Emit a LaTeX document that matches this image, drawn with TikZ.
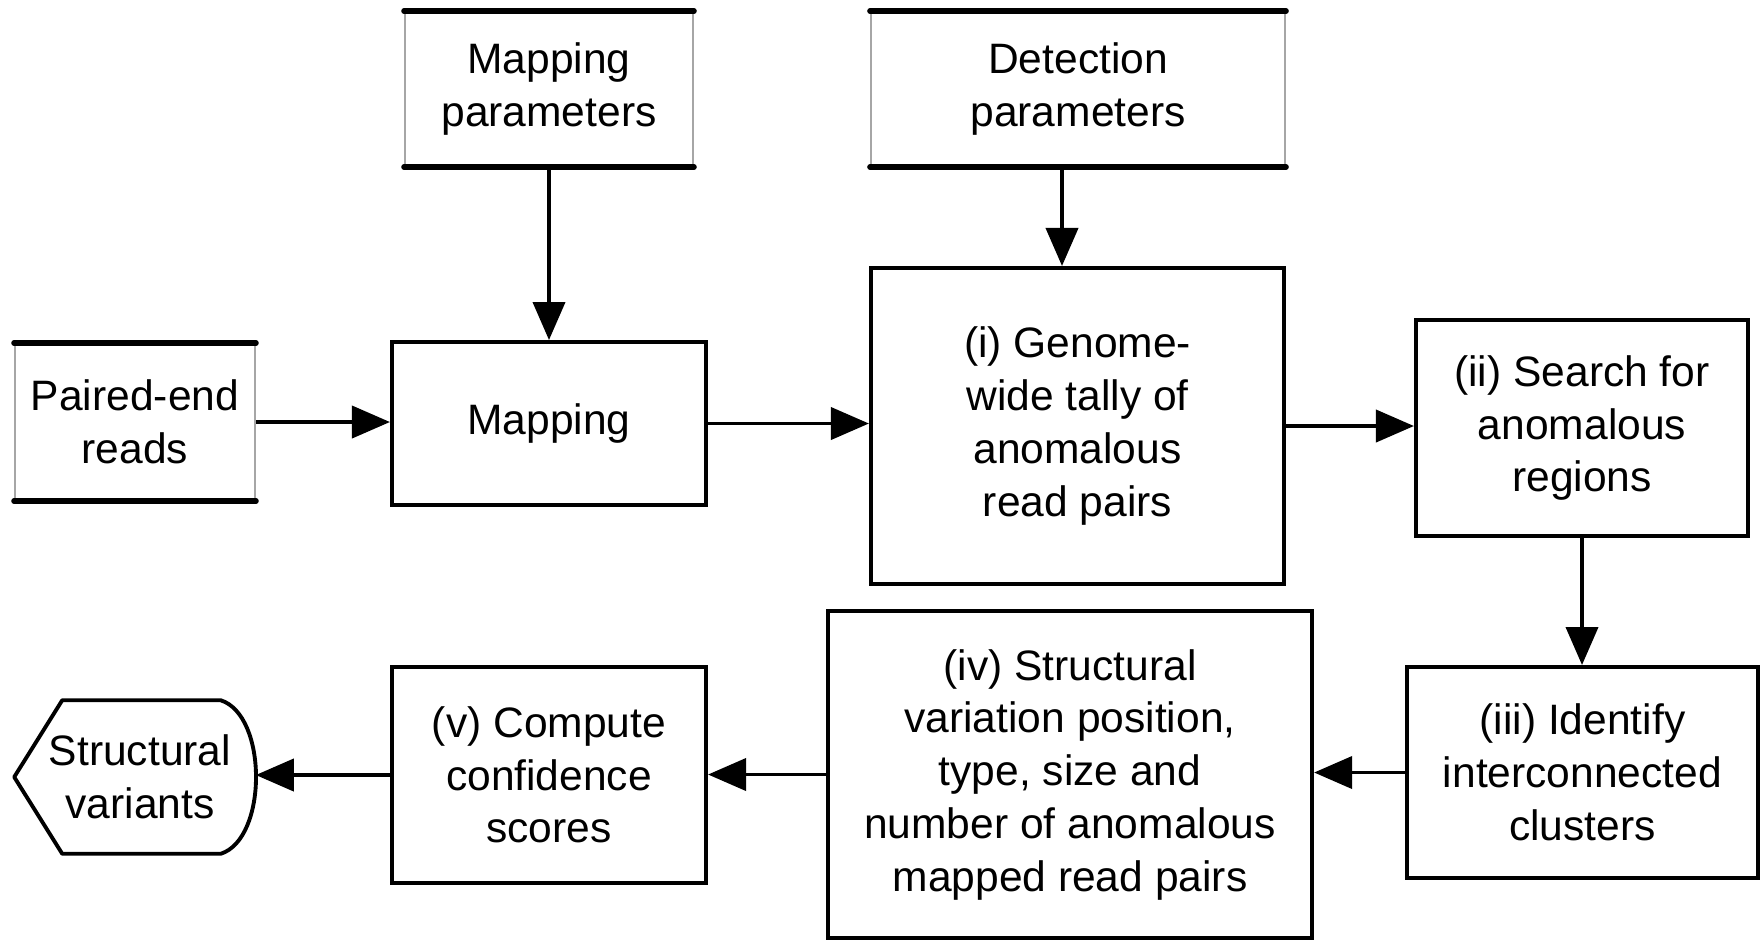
\documentclass[tikz,border=0pt]{standalone}
\usepackage{fontspec}
\setmainfont{Liberation Sans}
\usetikzlibrary{arrows.meta,calc}
\begin{document}
\begin{tikzpicture}[x=0.01cm,y=-0.01cm,
  every node/.style={font=\fontsize{12.1}{15.0}\selectfont, align=center, inner sep=0pt},
  box/.style={draw, line width=1.1pt, rectangle},
  inbox/.style={draw=gray!70, line width=0.6pt, rectangle},
  arr/.style={line width=1.1pt, -{Triangle[length=0.38cm,width=0.32cm]}},
  inline/.style={line width=1.5pt, line cap=round}
]
\useasboundingbox (0,0) rectangle (1761,941);

% input boxes
\node[inbox, minimum width=2.40cm, minimum height=1.56cm] (pe) at (135,422) {Paired-end\\reads};
\node[inbox, minimum width=2.88cm, minimum height=1.54cm] (mp) at (549,89) {Mapping\\parameters};
\node[inbox, minimum width=4.14cm, minimum height=1.54cm] (dp) at (1078,89) {Detection\\parameters};
\foreach \n in {pe,mp,dp}{
  \draw[inline] (\n.north west) -- (\n.north east);
  \draw[inline] (\n.south west) -- (\n.south east);
}

% process boxes
\node[box, minimum width=3.14cm, minimum height=1.63cm] (map) at (549,423.5) {Mapping};
\node[box, minimum width=4.13cm, minimum height=3.16cm] (gw) at (1077.5,426) {(i) Genome-\\wide tally of\\anomalous\\read pairs};
\node[box, minimum width=3.32cm, minimum height=2.16cm] (srch) at (1582,428) {(ii) Search for\\anomalous\\regions};
\node[box, minimum width=3.51cm, minimum height=2.11cm] (ident) at (1582.5,772.5) {(iii) Identify\\interconnected\\clusters};
\node[box, minimum width=4.84cm, minimum height=3.27cm] (iv) at (1070,774.5) {(iv) Structural\\variation position,\\type, size and\\number of anomalous\\mapped read pairs};
\node[box, minimum width=3.14cm, minimum height=2.16cm] (v) at (549,775) {(v) Compute\\confidence\\scores};

% display shape
\node[minimum width=2.40cm, minimum height=1.52cm] (sv) at (135,777) {\hspace*{0.1cm}Structural\\\hspace*{0.1cm}variants};
\draw[line width=1.1pt, line join=round]
  (sv.west) -- ($(sv.north west)+(48,0)$) -- ($(sv.north east)+(-35,0)$)
  .. controls ($(sv.north east)+(12,15)$) and ($(sv.south east)+(12,-15)$) .. ($(sv.south east)+(-35,0)$)
  -- ($(sv.south west)+(48,0)$) -- cycle;

% connectors
\coordinate (dpa) at ($(dp.south)+(-16,0)$);
\draw[arr] (mp.south) -- (map.north);
\draw[arr] (dpa) -- (dpa |- gw.north);
\draw[arr] (pe.east) -- (pe.east -| map.west);
\draw[arr] (map.east) -- (map.east -| gw.west);
\draw[arr] (gw.east) -- (gw.east -| srch.west);
\draw[arr] (srch.south) -- (srch.south |- ident.north);
\draw[arr] (ident.west) -- (ident.west -| iv.east);
\draw[arr] (iv.west) -- (iv.west -| v.east);
\draw[arr] (v.west) -- (v.west -| sv.east);
\end{tikzpicture}
\end{document}
